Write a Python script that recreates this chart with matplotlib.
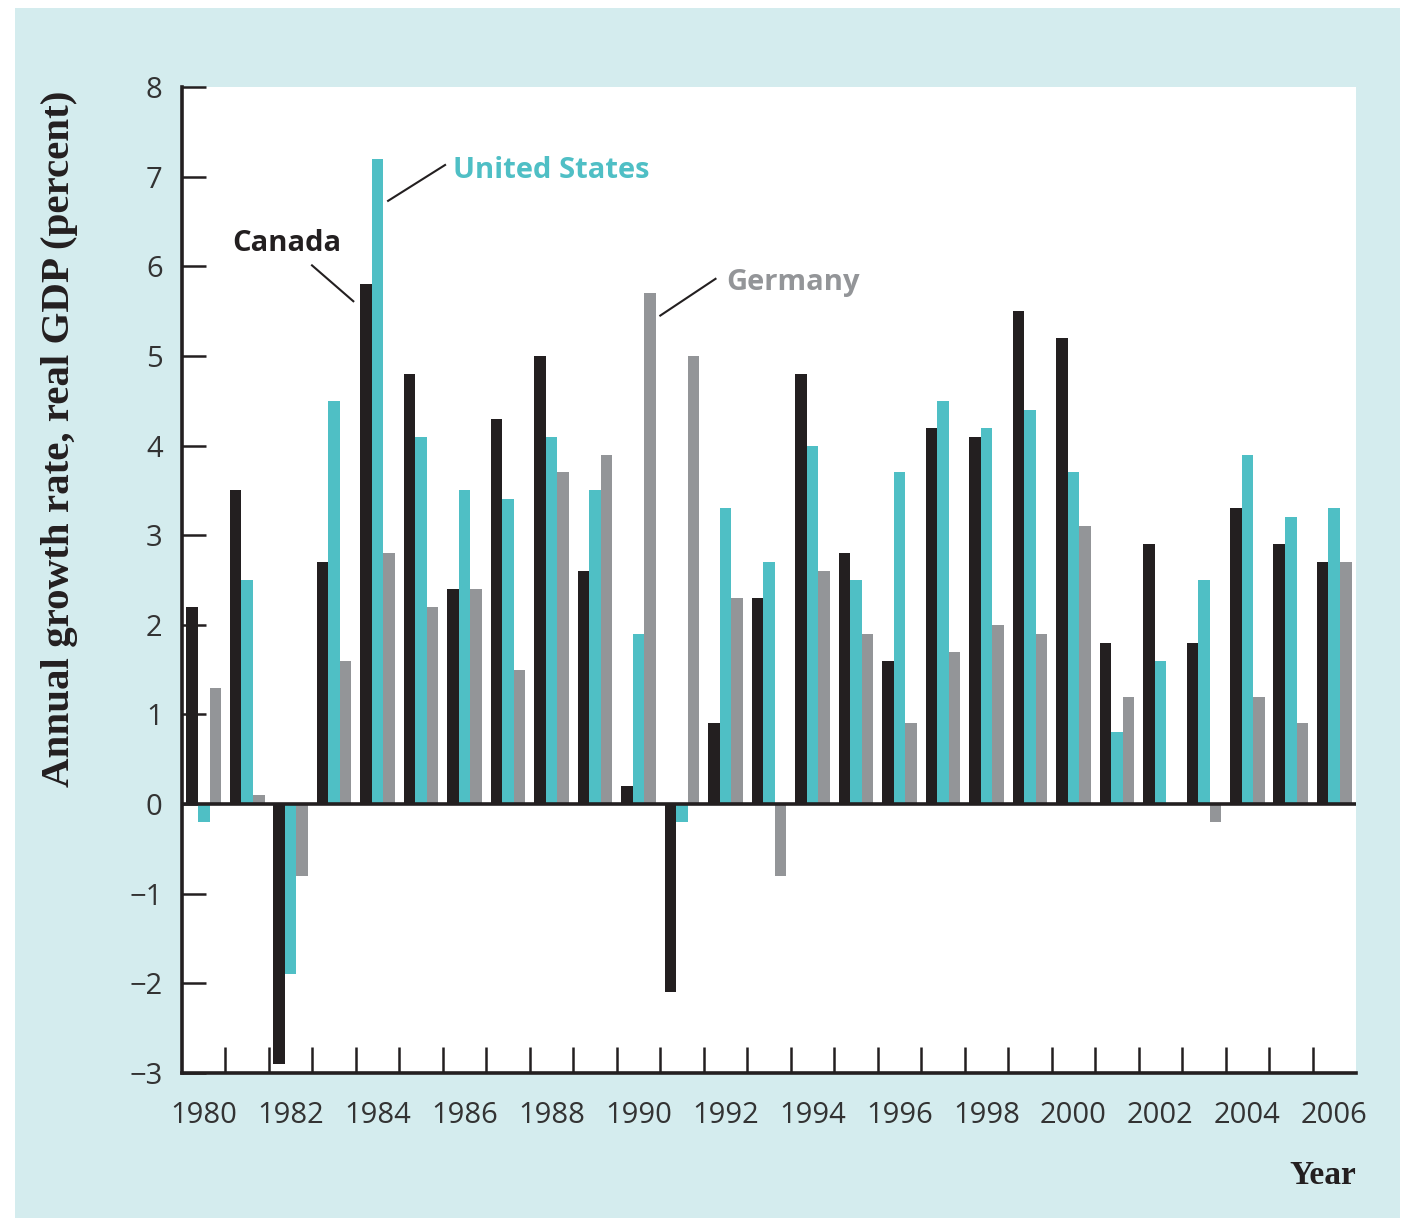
import matplotlib
matplotlib.use("Agg")
import matplotlib.pyplot as plt
import numpy as np
from matplotlib.patches import Rectangle

years = list(range(1980, 2007))
canada = [2.2, 3.5, -2.9, 2.7, 5.8, 4.8, 2.4, 4.3, 5.0, 2.6, 0.2, -2.1, 0.9, 2.3,
          4.8, 2.8, 1.6, 4.2, 4.1, 5.5, 5.2, 1.8, 2.9, 1.8, 3.3, 2.9, 2.7]
united_states = [-0.2, 2.5, -1.9, 4.5, 7.2, 4.1, 3.5, 3.4, 4.1, 3.5, 1.9, -0.2, 3.3, 2.7,
                 4.0, 2.5, 3.7, 4.5, 4.2, 4.4, 3.7, 0.8, 1.6, 2.5, 3.9, 3.2, 3.3]
germany = [1.3, 0.1, -0.8, 1.6, 2.8, 2.2, 2.4, 1.5, 3.7, 3.9, 5.7, 5.0, 2.3, -0.8,
           2.6, 1.9, 0.9, 1.7, 2.0, 1.9, 3.1, 1.2, 0.0, -0.2, 1.2, 0.9, 2.7]
year_labels = [str(y) for y in range(1980, 2007, 2)]
yticks = list(range(-3, 9))

C_CAN = "#231f20"
C_US = "#4fbfc5"
C_GER = "#939598"
PANEL = "#d4ecee"

W, H = 1407, 1222
fig = plt.figure(figsize=(W / 100, H / 100), dpi=100)
fig.patch.set_facecolor("white")
fig.patches.append(Rectangle((15 / W, 1 - 1218 / H), (1400 - 15) / W, (1218 - 8) / H,
                             transform=fig.transFigure, facecolor=PANEL,
                             edgecolor="none", zorder=-10))

left, right, top, bottom = 182, 1356, 87, 1073
ax = fig.add_axes([left / W, 1 - bottom / H, (right - left) / W, (bottom - top) / H])
ax.set_facecolor("white")

x = np.array(years, dtype=float)
bw = 0.265
ax.bar(x - bw, canada, width=bw, color=C_CAN, linewidth=0, zorder=2)
ax.bar(x, united_states, width=bw, color=C_US, linewidth=0, zorder=2)
ax.bar(x + bw, germany, width=bw, color=C_GER, linewidth=0, zorder=2)

ax.axhline(0, color="#231f20", lw=2.6, zorder=3)
ax.set_xlim(1979.5, 2006.5)
ax.set_ylim(-3, 8)

for s in ["top", "right"]:
    ax.spines[s].set_visible(False)
for s in ["left", "bottom"]:
    ax.spines[s].set_linewidth(2.6)
    ax.spines[s].set_color("#231f20")

tick_font = dict(family=["Open Sans", "DejaVu Sans"], size=21, color="#333333")
ax.set_yticks(yticks)
ax.set_yticklabels([str(v).replace("-", "\u2212") for v in yticks], fontdict=tick_font)
ax.tick_params(axis="y", direction="in", length=17, width=1.8, pad=14, color="#231f20")

ax.set_xticks(range(1980, 2007, 2))
ax.set_xticklabels(year_labels, fontdict=tick_font)
ax.tick_params(axis="x", which="major", length=0, pad=20)
ax.set_xticks(np.arange(1980.5, 2006, 1.0), minor=True)
ax.tick_params(axis="x", which="minor", direction="in", length=19, width=1.8, color="#231f20")

fig.text(60 / W, 1 - 439 / H, "Annual growth rate, real GDP (percent)", rotation=90,
         ha="center", va="center", family="Liberation Serif", fontweight="bold",
         fontsize=29.5, color="#231f20")
fig.text(1356 / W, 1 - 1176 / H, "Year", ha="right", va="center",
         family="Liberation Serif", fontweight="bold", fontsize=24, color="#231f20")

lab_font = dict(family=["Open Sans", "DejaVu Sans"], fontweight="bold", fontsize=21)
ax.text(1981.91, 6.25, "Canada", ha="center", va="center", color=C_CAN, **lab_font)
ax.plot([1982.49, 1983.44], [6.01, 5.61], color="#231f20", lw=1.5, zorder=4)
ax.text(1985.74, 7.07, "United States", ha="left", va="center", color=C_US, **lab_font)
ax.plot([1984.24, 1985.55], [6.73, 7.13], color="#231f20", lw=1.5, zorder=4)
ax.text(1992.02, 5.82, "Germany", ha="left", va="center", color=C_GER, **lab_font)
ax.plot([1990.50, 1991.77], [5.45, 5.86], color="#231f20", lw=1.5, zorder=4)

fig.savefig("out.png", dpi=100, facecolor=fig.get_facecolor())
